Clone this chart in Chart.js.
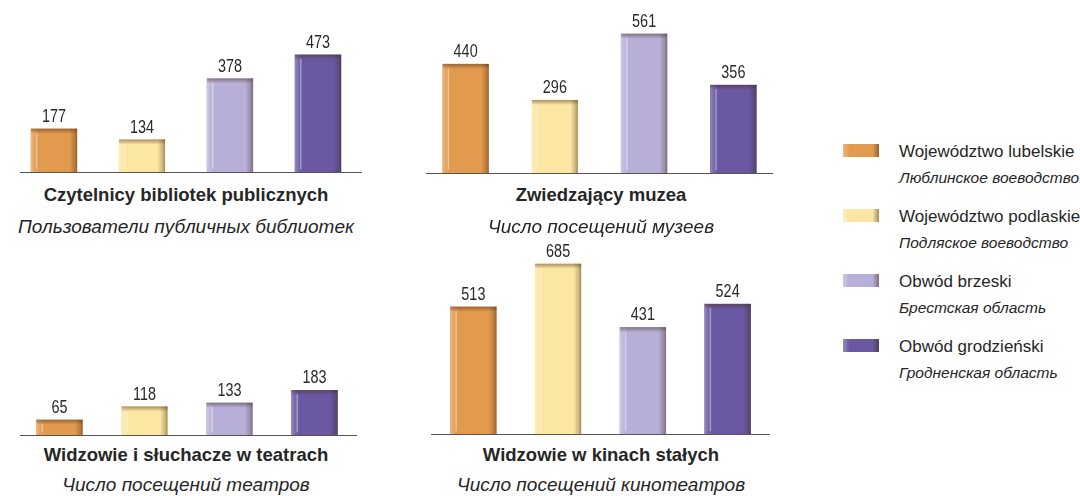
<!DOCTYPE html>
<html>
<head>
<meta charset="utf-8">
<script src="https://cdn.jsdelivr.net/npm/chart.js@4.4.1/dist/chart.umd.min.js"></script>
<style>
  html, body { margin: 0; padding: 0; background: #fff; }
  body { width: 1080px; height: 496px; position: relative; overflow: hidden;
         font-family: "Liberation Sans", Arial, sans-serif; color: #262626; }
  .panel { position: absolute; }
  .title { position: absolute; white-space: nowrap; line-height: 1; text-align: center;
           font-weight: bold; font-size: 18.5px; transform: translateX(-50%); }
  .subtitle { position: absolute; white-space: nowrap; line-height: 1; text-align: center;
              font-style: italic; font-size: 19px; transform: translateX(-50%); }
  .legend-item { position: absolute; left: 843px; width: 237px; height: 50px; }
  .swatch { position: absolute; left: 0; top: 0; width: 36px; height: 13px; }
  .legend-item .pl, .legend-item .ru { position: absolute; left: 56px; white-space: nowrap;
           line-height: 1; }
  .legend-item .pl { font-size: 17px; }
  .legend-item .ru { font-size: 15.5px; font-style: italic; }
</style>
</head>
<body>

<div class="panel" id="p1" style="left:10px; top:0px; width:352px; height:173px;"><canvas id="chart1"></canvas></div>
<div class="panel" id="p2" style="left:421px; top:0px; width:357px; height:174px;"><canvas id="chart2"></canvas></div>
<div class="panel" id="p3" style="left:17px; top:330px; width:340px; height:106px;"><canvas id="chart3"></canvas></div>
<div class="panel" id="p4" style="left:431px; top:230px; width:339px; height:205px;"><canvas id="chart4"></canvas></div>

<div id="captions"></div>
<div id="legend"></div>

<script>
// regions (legend entries, one bar per region in every chart)
const regions = ["Województwo lubelskie", "Województwo podlaskie", "Obwód brzeski", "Obwód grodzieński"];
const regionsRu = ["Люблинское воеводство", "Подляское воеводство", "Брестская область", "Гродненская область"];
const regionColors = ["#E29A4E", "#FBE6A2", "#B8AFD8", "#6A59A2"];

// values per indicator, in region order
const libraryReaders = [177, 134, 378, 473];
const museumVisitors = [440, 296, 561, 356];
const theatreAudience = [65, 118, 133, 183];
const cinemaAudience = [513, 685, 431, 524];

const titlesPl = ["Czytelnicy bibliotek publicznych", "Zwiedzający muzea",
                  "Widzowie i słuchacze w teatrach", "Widzowie w kinach stałych"];
const titlesRu = ["Пользователи публичных библиотек", "Число посещений музеев",
                  "Число посещений театров", "Число посещений кинотеатров"];

// all four charts share one vertical scale
const PX_PER_UNIT = 0.25;
const TOP_PAD = 26;

// bevel look on top of the plain bars
const bevelBars = {
    id: "bevelBars",
    afterDatasetsDraw(chart) {
        const ctx = chart.ctx;
        chart.getDatasetMeta(0).data.forEach(function (bar) {
            const p = bar.getProps(["x", "y", "base", "width"], true);
            const l = p.x - p.width / 2, r = p.x + p.width / 2;
            const h = p.base - p.y;
            ctx.save();
            const g = ctx.createLinearGradient(l, 0, r, 0);
            g.addColorStop(0, "rgba(255,255,255,0.30)");
            g.addColorStop(0.06, "rgba(255,255,255,0.12)");
            g.addColorStop(0.16, "rgba(255,255,255,0)");
            g.addColorStop(0.84, "rgba(0,0,0,0)");
            g.addColorStop(0.94, "rgba(60,30,10,0.22)");
            g.addColorStop(1, "rgba(60,30,10,0.45)");
            ctx.fillStyle = g;
            ctx.fillRect(l, p.y, p.width, h);
            // thin highlight stripe near the left edge
            ctx.fillStyle = "rgba(255,255,255,0.35)";
            ctx.fillRect(l + 5, p.y + 4, 1.5, Math.max(0, h - 8));
            // top edge
            const t = ctx.createLinearGradient(0, p.y, 0, p.y + 5);
            t.addColorStop(0, "rgba(70,40,20,0.45)");
            t.addColorStop(1, "rgba(70,40,20,0)");
            ctx.fillStyle = t;
            ctx.fillRect(l, p.y, p.width, Math.min(5, h));
            ctx.restore();
        });
    }
};

// values above bars and the base line
const barLabels = {
    id: "barLabels",
    afterDraw(chart, args, opts) {
        const ctx = chart.ctx;
        const area = chart.chartArea;
        ctx.save();
        ctx.strokeStyle = "#555";
        ctx.lineWidth = 2;
        ctx.beginPath();
        ctx.moveTo(area.left + (opts.lineLeft || 0), area.bottom);
        ctx.lineTo(area.right + (opts.lineRight || 0), area.bottom);
        ctx.stroke();

        const values = chart.data.datasets[0].data;
        ctx.fillStyle = "#2a2a2a";
        ctx.font = "18px 'Liberation Sans', Arial, sans-serif";
        ctx.textAlign = "center";
        ctx.textBaseline = "alphabetic";
        chart.getDatasetMeta(0).data.forEach(function (bar, i) {
            ctx.save();
            ctx.translate(bar.x, bar.y - 7);
            ctx.scale(0.8, 1);
            ctx.fillText(String(values[i]), 0, 0);
            ctx.restore();
        });
        ctx.restore();
    }
};

function makeChart(canvasId, values, lineLeft, lineRight) {
    const canvas = document.getElementById(canvasId);
    const plotHeight = canvas.parentNode.clientHeight - TOP_PAD;
    return new Chart(canvas, {
        type: "bar",
        data: {
            labels: regions,
            datasets: [{
                data: values,
                backgroundColor: regionColors,
                borderWidth: 0,
                barThickness: 46
            }]
        },
        options: {
            responsive: true,
            maintainAspectRatio: false,
            animation: false,
            layout: { padding: { top: TOP_PAD, left: 0, right: 0, bottom: 0 } },
            scales: {
                x: { display: false },
                y: { display: false, min: 0, max: plotHeight / PX_PER_UNIT }
            },
            plugins: {
                legend: { display: false },
                tooltip: { enabled: false },
                barLabels: { lineLeft: lineLeft, lineRight: lineRight }
            }
        },
        plugins: [bevelBars, barLabels]
    });
}

makeChart("chart1", libraryReaders, 10, 0);
makeChart("chart2", museumVisitors, 5, -5);
makeChart("chart3", theatreAudience, 3, 5);
makeChart("chart4", cinemaAudience, -5, 0);

// captions under each chart (baselines: 202/233 top row, 462/491 bottom row)
const captionPos = [[186, 202, 233], [601, 202, 233], [186, 462, 491], [601, 462, 491]];
const captions = document.getElementById("captions");
captionPos.forEach(function (pos, i) {
    const t = document.createElement("div");
    t.className = "title";
    t.textContent = titlesPl[i];
    t.style.left = pos[0] + "px";
    t.style.top = (pos[1] - 0.8465 * 18.5) + "px";
    captions.appendChild(t);
    const s = document.createElement("div");
    s.className = "subtitle";
    s.textContent = titlesRu[i];
    s.style.left = pos[0] + "px";
    s.style.top = (pos[2] - 0.8465 * 19) + "px";
    captions.appendChild(s);
});

// legend
const legend = document.getElementById("legend");
regions.forEach(function (name, i) {
    const item = document.createElement("div");
    item.className = "legend-item";
    item.style.top = (144 + i * 65) + "px";
    const sw = document.createElement("div");
    sw.className = "swatch";
    sw.style.background = "linear-gradient(to right, rgba(255,255,255,0.3), rgba(255,255,255,0) 18%, rgba(0,0,0,0) 82%, rgba(60,30,10,0.45)), " + regionColors[i];
    item.appendChild(sw);
    const pl = document.createElement("div");
    pl.className = "pl";
    pl.textContent = name;
    pl.style.top = (13 - 0.8465 * 17) + "px";
    item.appendChild(pl);
    const ru = document.createElement("div");
    ru.className = "ru";
    ru.textContent = regionsRu[i];
    ru.style.top = (39 - 0.8465 * 15.5) + "px";
    item.appendChild(ru);
    legend.appendChild(item);
});
</script>
</body>
</html>
